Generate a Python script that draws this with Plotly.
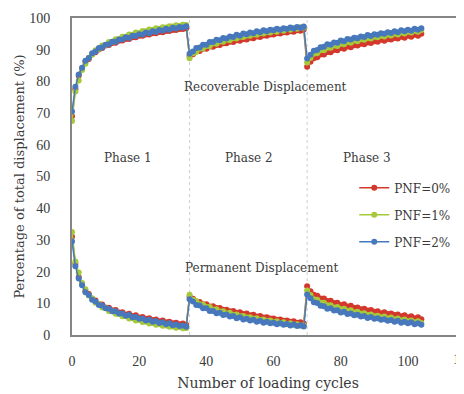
import plotly.graph_objects as go

cycles = list(range(105))
phase_bounds = [35, 70]
series_names = ["PNF=0%", "PNF=1%", "PNF=2%"]
series_colors = ["#D4382C", "#A6C93A", "#4878BC"]

# Recoverable displacement (% of total)
rec_pnf0 = [69.0, 77.5, 81.8, 84.0, 86.2, 87.1, 88.6, 89.2, 90.1, 90.5, 91.3, 91.5, 92.1, 92.2, 92.8, 92.9, 93.4, 93.4, 93.9, 93.9, 94.4, 94.4, 94.8, 94.8, 95.2, 95.2, 95.6, 95.5, 95.9, 95.9, 96.2, 96.2, 96.5, 96.5, 96.8,
            88.0, 88.6, 89.5, 89.6, 90.3, 90.3, 91.0, 90.9, 91.5, 91.5, 92.0, 92.0, 92.5, 92.4, 93.0, 92.8, 93.4, 93.2, 93.8, 93.6, 94.2, 94.0, 94.5, 94.4, 94.8, 94.8, 95.2, 95.1, 95.5, 95.4, 95.8, 95.7, 96.1, 96.0, 96.4,
            84.6, 86.2, 87.3, 87.6, 88.5, 88.5, 89.3, 89.2, 89.9, 89.8, 90.5, 90.3, 91.0, 90.8, 91.4, 91.3, 91.9, 91.7, 92.3, 92.1, 92.7, 92.5, 93.1, 92.8, 93.4, 93.2, 93.7, 93.5, 94.1, 93.8, 94.4, 94.1, 94.7, 94.4, 95.0]
rec_pnf1 = [67.5, 76.8, 80.3, 83.6, 85.6, 87.5, 88.4, 89.8, 90.2, 91.3, 91.5, 92.4, 92.5, 93.3, 93.4, 94.1, 94.1, 94.8, 94.7, 95.4, 95.3, 95.9, 95.8, 96.4, 96.2, 96.8, 96.6, 97.1, 97.0, 97.4, 97.3, 97.7, 97.5, 97.9, 97.8,
            87.3, 88.9, 89.3, 90.3, 90.4, 91.2, 91.2, 92.0, 91.9, 92.6, 92.5, 93.2, 93.0, 93.7, 93.5, 94.1, 94.0, 94.5, 94.4, 94.9, 94.7, 95.3, 95.1, 95.6, 95.4, 96.0, 95.7, 96.3, 96.0, 96.6, 96.3, 96.8, 96.6, 97.1, 96.9,
            86.0, 87.4, 88.7, 88.9, 89.8, 89.8, 90.6, 90.6, 91.3, 91.2, 91.9, 91.7, 92.4, 92.2, 92.9, 92.7, 93.3, 93.1, 93.7, 93.5, 94.1, 93.9, 94.4, 94.2, 94.8, 94.5, 95.1, 94.8, 95.4, 95.1, 95.7, 95.4, 96.0, 95.7, 96.2]
rec_pnf2 = [70.5, 78.3, 82.2, 84.3, 86.5, 87.4, 88.9, 89.4, 90.5, 90.7, 91.6, 91.7, 92.5, 92.5, 93.2, 93.2, 93.9, 93.7, 94.4, 94.3, 94.9, 94.8, 95.4, 95.2, 95.8, 95.6, 96.2, 96.0, 96.6, 96.3, 96.9, 96.7, 97.2, 97.0, 97.4,
            88.7, 89.4, 90.5, 90.7, 91.6, 91.6, 92.4, 92.4, 93.1, 93.0, 93.7, 93.5, 94.2, 94.0, 94.7, 94.4, 95.1, 94.9, 95.4, 95.2, 95.8, 95.5, 96.1, 95.8, 96.3, 96.1, 96.6, 96.3, 96.8, 96.5, 97.0, 96.7, 97.2, 96.9, 97.3,
            87.2, 88.4, 89.7, 89.9, 90.8, 90.9, 91.7, 91.6, 92.3, 92.2, 92.9, 92.7, 93.4, 93.2, 93.8, 93.6, 94.2, 94.0, 94.6, 94.3, 94.9, 94.7, 95.2, 95.0, 95.5, 95.3, 95.8, 95.5, 96.1, 95.8, 96.3, 96.0, 96.6, 96.3, 96.8]

# Permanent displacement (% of total)
perm_pnf0 = [31.0, 22.5, 18.3, 16.2, 13.8, 12.9, 11.4, 10.9, 9.8, 9.6, 8.7, 8.6, 7.8, 7.9, 7.1, 7.2, 6.5, 6.7, 6.0, 6.2, 5.5, 5.7, 5.1, 5.3, 4.7, 4.9, 4.3, 4.6, 4.0, 4.2, 3.7, 3.9, 3.4, 3.6, 3.2,
             12.1, 11.4, 10.5, 10.4, 9.7, 9.7, 9.0, 9.1, 8.5, 8.5, 8.0, 8.0, 7.5, 7.6, 7.0, 7.2, 6.6, 6.8, 6.2, 6.4, 5.8, 6.0, 5.5, 5.6, 5.2, 5.2, 4.8, 4.9, 4.5, 4.6, 4.2, 4.3, 3.9, 4.0, 3.6,
             15.4, 13.8, 12.7, 12.4, 11.5, 11.5, 10.7, 10.8, 10.1, 10.2, 9.5, 9.7, 9.0, 9.2, 8.6, 8.7, 8.1, 8.3, 7.7, 7.9, 7.3, 7.5, 6.9, 7.2, 6.6, 6.8, 6.3, 6.5, 5.9, 6.2, 5.6, 5.9, 5.3, 5.6, 5.0]
perm_pnf1 = [32.5, 23.2, 19.7, 16.4, 14.4, 12.5, 11.6, 10.2, 9.8, 8.7, 8.5, 7.6, 7.5, 6.7, 6.6, 5.9, 5.9, 5.2, 5.3, 4.6, 4.7, 4.1, 4.2, 3.6, 3.8, 3.2, 3.4, 2.9, 3.0, 2.6, 2.7, 2.3, 2.5, 2.1, 2.2,
             12.7, 11.1, 10.7, 9.7, 9.6, 8.8, 8.8, 8.0, 8.1, 7.4, 7.5, 6.8, 7.0, 6.3, 6.5, 5.9, 6.0, 5.5, 5.6, 5.1, 5.3, 4.7, 4.9, 4.4, 4.6, 4.0, 4.3, 3.7, 4.0, 3.4, 3.7, 3.2, 3.4, 2.9, 3.1,
             14.0, 12.6, 11.3, 11.1, 10.2, 10.2, 9.4, 9.4, 8.7, 8.8, 8.1, 8.3, 7.6, 7.8, 7.1, 7.3, 6.7, 6.9, 6.3, 6.5, 5.9, 6.1, 5.6, 5.8, 5.2, 5.5, 4.9, 5.2, 4.6, 4.9, 4.3, 4.6, 4.0, 4.3, 3.8]
perm_pnf2 = [29.5, 21.7, 17.8, 15.7, 13.5, 12.6, 11.1, 10.6, 9.5, 9.3, 8.4, 8.3, 7.5, 7.5, 6.8, 6.8, 6.1, 6.3, 5.6, 5.7, 5.1, 5.2, 4.6, 4.8, 4.2, 4.4, 3.8, 4.0, 3.4, 3.7, 3.1, 3.3, 2.8, 3.0, 2.6,
             11.3, 10.6, 9.5, 9.3, 8.4, 8.4, 7.6, 7.6, 6.9, 7.0, 6.3, 6.5, 5.8, 6.0, 5.3, 5.6, 4.9, 5.1, 4.6, 4.8, 4.2, 4.5, 3.9, 4.2, 3.7, 3.9, 3.4, 3.7, 3.2, 3.5, 3.0, 3.3, 2.8, 3.1, 2.7,
             12.8, 11.6, 10.3, 10.1, 9.2, 9.1, 8.3, 8.4, 7.7, 7.8, 7.1, 7.3, 6.6, 6.8, 6.2, 6.4, 5.8, 6.0, 5.4, 5.7, 5.1, 5.3, 4.8, 5.0, 4.5, 4.7, 4.2, 4.5, 3.9, 4.2, 3.7, 4.0, 3.4, 3.7, 3.2]

x_ticks = [0, 20, 40, 60, 80, 100]
y_ticks = [0, 10, 20, 30, 40, 50, 60, 70, 80, 90, 100]

rec_all = [rec_pnf0, rec_pnf1, rec_pnf2]
perm_all = [perm_pnf0, perm_pnf1, perm_pnf2]

SERIF = "Liberation Serif, Times New Roman, serif"
WIDE = "DejaVu Serif, serif"
TXT = "#3a3a3a"

fig = go.Figure()
for i, name in enumerate(series_names):
    c = series_colors[i]
    fig.add_trace(go.Scatter(
        x=cycles, y=rec_all[i], mode="lines+markers", name=name,
        legendgroup=name, line=dict(color=c, width=1.5),
        marker=dict(color=c, size=6)))
    fig.add_trace(go.Scatter(
        x=cycles, y=perm_all[i], mode="lines+markers", name=name,
        legendgroup=name, showlegend=False, line=dict(color=c, width=1.5),
        marker=dict(color=c, size=6)))

for b in phase_bounds:
    fig.add_vline(x=b, line=dict(color="#cfcfcf", width=1, dash="dot"), layer="below")

annots = [
    ("Recoverable Displacement", 57.5, 78.3),
    ("Phase 1", 16.7, 55.8),
    ("Phase 2", 52.7, 55.8),
    ("Phase 3", 87.8, 55.8),
    ("Permanent Displacement", 56.5, 21.2),
]
for t, ax, ay in annots:
    fig.add_annotation(x=ax, y=ay, text=t, showarrow=False,
                       font=dict(family=WIDE, size=12, color=TXT))

# partially visible "120" tick at the right edge
fig.add_annotation(xref="paper", yref="paper", x=1.0, xshift=-2, y=-0.078, text="1",
                   showarrow=False, xanchor="right", yanchor="middle",
                   font=dict(family=SERIF, size=14, color=TXT))

fig.update_layout(
    width=456, height=386,
    margin=dict(l=64, r=0, t=10, b=59),
    paper_bgcolor="white", plot_bgcolor="white",
    font=dict(family=SERIF, size=14, color=TXT),
    showlegend=True,
    legend=dict(x=0.72, y=0.51, xanchor="left", yanchor="top",
                bgcolor="rgba(0,0,0,0)", tracegroupgap=8,
                traceorder="grouped",
                font=dict(family=WIDE, size=12, color=TXT)),
    xaxis=dict(range=[0, 116.7], tickvals=x_ticks, showgrid=False,
               zeroline=False, showline=True, linecolor="#858585", linewidth=2,
               mirror=True, ticks="", ticklabelstandoff=12, automargin=False,
               tickfont=dict(family=SERIF, size=14, color=TXT),
               title=dict(text="Number of loading cycles", standoff=10,
                          font=dict(family=WIDE, size=14, color=TXT))),
    yaxis=dict(range=[0, 100], tickvals=y_ticks, showgrid=False,
               zeroline=False, showline=True, linecolor="#858585", linewidth=2,
               ticks="", ticklabelstandoff=17, automargin=False,
               tickfont=dict(family=SERIF, size=14, color=TXT),
               title=dict(text="Percentage of total displacement (%)", standoff=2,
                          font=dict(family=WIDE, size=13, color=TXT))),
)

fig.write_html("out.html")
